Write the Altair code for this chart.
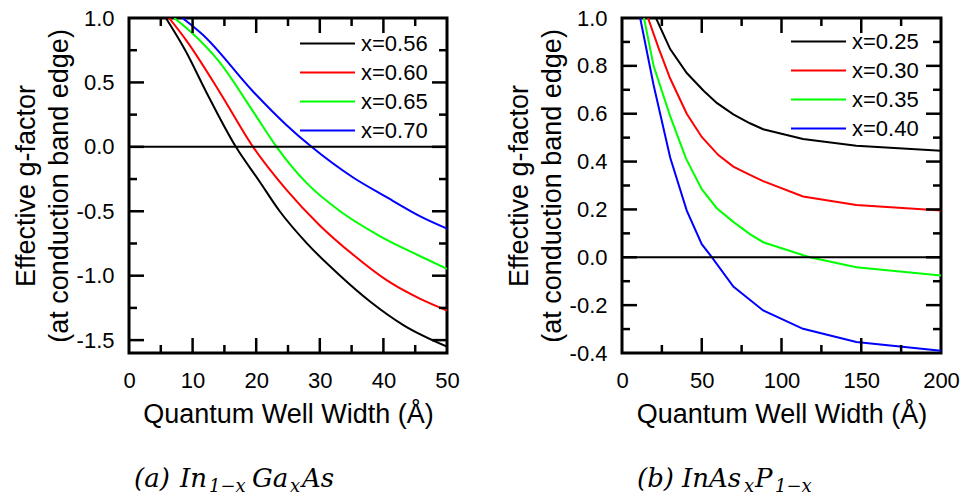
import altair as alt
import pandas as pd

# ---------------- data: panel (a)  In(1-x)Ga(x)As ----------------
a_series = ["x=0.56", "x=0.60", "x=0.65", "x=0.70"]
a_056_w = [5.8, 8.95, 12.1, 16.8, 20.5, 23.7, 27.9, 33.2, 37.9, 43.2, 50]
a_056_g = [1.0, 0.74, 0.43, 0.0, -0.267, -0.50, -0.745, -1.0, -1.2, -1.385, -1.55]
a_060_w = [6.3, 8.95, 14.2, 19.5, 24.7, 30, 35.3, 40.5, 45.8, 50]
a_060_g = [1.0, 0.83, 0.43, 0.0, -0.33, -0.61, -0.84, -1.035, -1.18, -1.27]
a_065_w = [7.1, 10, 14.2, 19.5, 23.2, 27.9, 33.2, 39.5, 45.8, 50]
a_065_g = [1.0, 0.88, 0.66, 0.275, 0.0, -0.28, -0.5, -0.694, -0.849, -0.947]
a_070_w = [8.4, 11.6, 19.5, 24.7, 28.7, 35.3, 40.5, 45.8, 50]
a_070_g = [1.0, 0.87, 0.43, 0.172, 0.0, -0.24, -0.39, -0.539, -0.634]

# ---------------- data: panel (b)  InAs(x)P(1-x) ----------------
b_series = ["x=0.25", "x=0.30", "x=0.35", "x=0.40"]
b_025_w = [21.3, 30.2, 40.6, 51, 59.4, 69.8, 80.2, 88.5, 113.5, 146.9, 200]
b_025_g = [1.0, 0.87, 0.77, 0.697, 0.645, 0.597, 0.56, 0.535, 0.494, 0.466, 0.445]
b_030_w = [16.3, 22.9, 30.2, 40.6, 50, 60.4, 69.8, 80.2, 88.5, 113.5, 146.9, 200]
b_030_g = [1.0, 0.875, 0.747, 0.6, 0.503, 0.427, 0.379, 0.344, 0.318, 0.254, 0.219, 0.195]
b_035_w = [13.8, 19.8, 30.2, 40.1, 50, 59.4, 69.8, 80.2, 88.5, 117.7, 146.9, 200]
b_035_g = [1.0, 0.80, 0.59, 0.413, 0.285, 0.205, 0.148, 0.097, 0.063, 0.0, -0.042, -0.076]
b_040_w = [11.4, 19.8, 30.2, 40.6, 50, 56.4, 69.8, 88.5, 113.5, 146.9, 200]
b_040_g = [1.0, 0.72, 0.417, 0.195, 0.055, 0.0, -0.122, -0.222, -0.299, -0.354, -0.391]

colors = ["#000000", "#ff0000", "#00ff00", "#0000ff"]

# axis tick values
a_x_labels = [0, 10, 20, 30, 40, 50]
a_x_major = [10, 20, 30, 40]
a_x_minor = [5, 15, 25, 35, 45]
a_y_labels = [-1.5, -1.0, -0.5, 0.0, 0.5, 1.0]
a_y_major = [-1.5, -1.0, -0.5, 0.0, 0.5]
a_y_minor = [-1.25, -0.75, -0.25, 0.25, 0.75]

b_x_labels = [0, 50, 100, 150, 200]
b_x_major = [50, 100, 150]
b_x_minor = [25, 75, 125, 175]
b_y_labels = [-0.4, -0.2, 0.0, 0.2, 0.4, 0.6, 0.8, 1.0]
b_y_major = [-0.2, 0.0, 0.2, 0.4, 0.6, 0.8]
b_y_minor = [-0.3, -0.1, 0.1, 0.3, 0.5, 0.7, 0.9]

zero_line = [0.0]

x_title = "Quantum Well Width (Å)"
y_title = ["Effective g-factor", "(at conduction band edge)"]

caption_a = ["(a)", "In", "1−x", "Ga", "x", "As"]
caption_b = ["(b)", "InAs", "x", "P", "1−x"]


def make_df(series, ws, gs):
    rows = []
    for s, w, g in zip(series, ws, gs):
        for wi, gi in zip(w, g):
            rows.append({"w": wi, "g": gi, "series": s})
    return pd.DataFrame(rows)


FONT = "Liberation Sans"
CAPFONT = "DejaVu Serif"
MAJ, MIN = 15, 8


def panel(df, series, xdom, ydom, xlabels, ylabels, xmaj, xmin, ymaj, ymin,
          W, H, interp, legx, legy, caption, cap_x, cap_sub):
    xs = alt.Scale(domain=xdom, nice=False, zero=False)
    ys = alt.Scale(domain=ydom, nice=False, zero=False)
    lines = alt.Chart(df).mark_line(strokeWidth=2, interpolate=interp, clip=True).encode(
        x=alt.X("w:Q", scale=xs, title=x_title,
                axis=alt.Axis(values=xlabels, format="d", labelPadding=17,
                              labelFlush=False,
                              titleX=W / 2, titleY=69, titleBaseline="alphabetic")),
        y=alt.Y("g:Q", scale=ys, title=y_title,
                axis=alt.Axis(values=ylabels, labelPadding=15, labelFlush=False,
                              labelExpr="(datum.value < 0 ? '-' : '') + format(abs(datum.value), '.1f')",
                              titleX=-95, titleY=H / 2, titleAngle=270,
                              titleBaseline="alphabetic", titleLineHeight=33)),
        color=alt.Color("series:N",
                        scale=alt.Scale(domain=series, range=colors),
                        legend=alt.Legend(orient="none", legendX=legx, legendY=legy,
                                          direction="vertical", title=None,
                                          symbolType="stroke", symbolSize=3025,
                                          symbolStrokeWidth=2, labelFontSize=22,
                                          labelFont=FONT, labelOffset=5,
                                          clipHeight=29, rowPadding=0, padding=0,
                                          labelLimit=300, labelColor="black")),
        order=alt.Order("w:Q"),
    )
    zero = alt.Chart(pd.DataFrame({"g": zero_line})).mark_rule(
        strokeWidth=2, color="black").encode(y=alt.Y("g:Q", scale=ys))

    layers = [lines, zero]
    for vals, ln in ((xmaj, MAJ), (xmin, MIN)):
        d = pd.DataFrame({"w": vals})
        layers.append(alt.Chart(d).mark_rule(strokeWidth=2.5, color="black").encode(
            x=alt.X("w:Q", scale=xs), y=alt.value(H), y2=alt.value(H - ln)))
        layers.append(alt.Chart(d).mark_rule(strokeWidth=2.5, color="black").encode(
            x=alt.X("w:Q", scale=xs), y=alt.value(0), y2=alt.value(ln)))
    for vals, ln in ((ymaj, MAJ), (ymin, MIN)):
        d = pd.DataFrame({"g": vals})
        layers.append(alt.Chart(d).mark_rule(strokeWidth=2.5, color="black").encode(
            y=alt.Y("g:Q", scale=ys), x=alt.value(0), x2=alt.value(ln)))
        layers.append(alt.Chart(d).mark_rule(strokeWidth=2.5, color="black").encode(
            y=alt.Y("g:Q", scale=ys), x=alt.value(W), x2=alt.value(W - ln)))

    for txt, cx, sub in zip(caption, cap_x, cap_sub):
        layers.append(alt.Chart(pd.DataFrame({"t": [txt]})).mark_text(
            align="left", baseline="alphabetic", font=CAPFONT,
            fontStyle="italic", fontSize=18 if sub else 26, color="black").encode(
            text="t:N", x=alt.value(cx), y=alt.value(H + (139 if sub else 134))))

    return alt.layer(*layers).properties(width=W, height=H)


df_a = make_df(a_series, [a_056_w, a_060_w, a_065_w, a_070_w],
               [a_056_g, a_060_g, a_065_g, a_070_g])
df_b = make_df(b_series, [b_025_w, b_030_w, b_035_w, b_040_w],
               [b_025_g, b_030_g, b_035_g, b_040_g])

left = panel(df_a, a_series, [0, 50], [-1.6, 1.0], a_x_labels, a_y_labels,
             a_x_major, a_x_minor, a_y_major, a_y_minor, 318, 335, "monotone",
             170, 11, caption_a, [5, 51, 80, 123, 161, 173],
             [False, False, True, False, True, False])
right = panel(df_b, b_series, [0, 200], [-0.4, 1.0], b_x_labels, b_y_labels,
              b_x_major, b_x_minor, b_y_major, b_y_minor, 319, 335, "linear",
              168, 9, caption_b, [15, 60, 122, 133, 153],
              [False, False, True, False, True])

chart = alt.hconcat(left, right, spacing=42).resolve_scale(
    color="independent", x="independent", y="independent"
).properties(
    padding={"left": 10, "top": 5, "right": 0, "bottom": 0},
    background="white",
).configure_view(
    stroke="black", strokeWidth=3
).configure_axis(
    grid=False, ticks=False, domain=False,
    labelFont=FONT, labelFontSize=22, labelColor="black",
    titleFont=FONT, titleFontSize=27, titleFontWeight="normal", titleColor="black",
)

chart.save("out.html", embed_options={"renderer": "svg", "actions": False})
